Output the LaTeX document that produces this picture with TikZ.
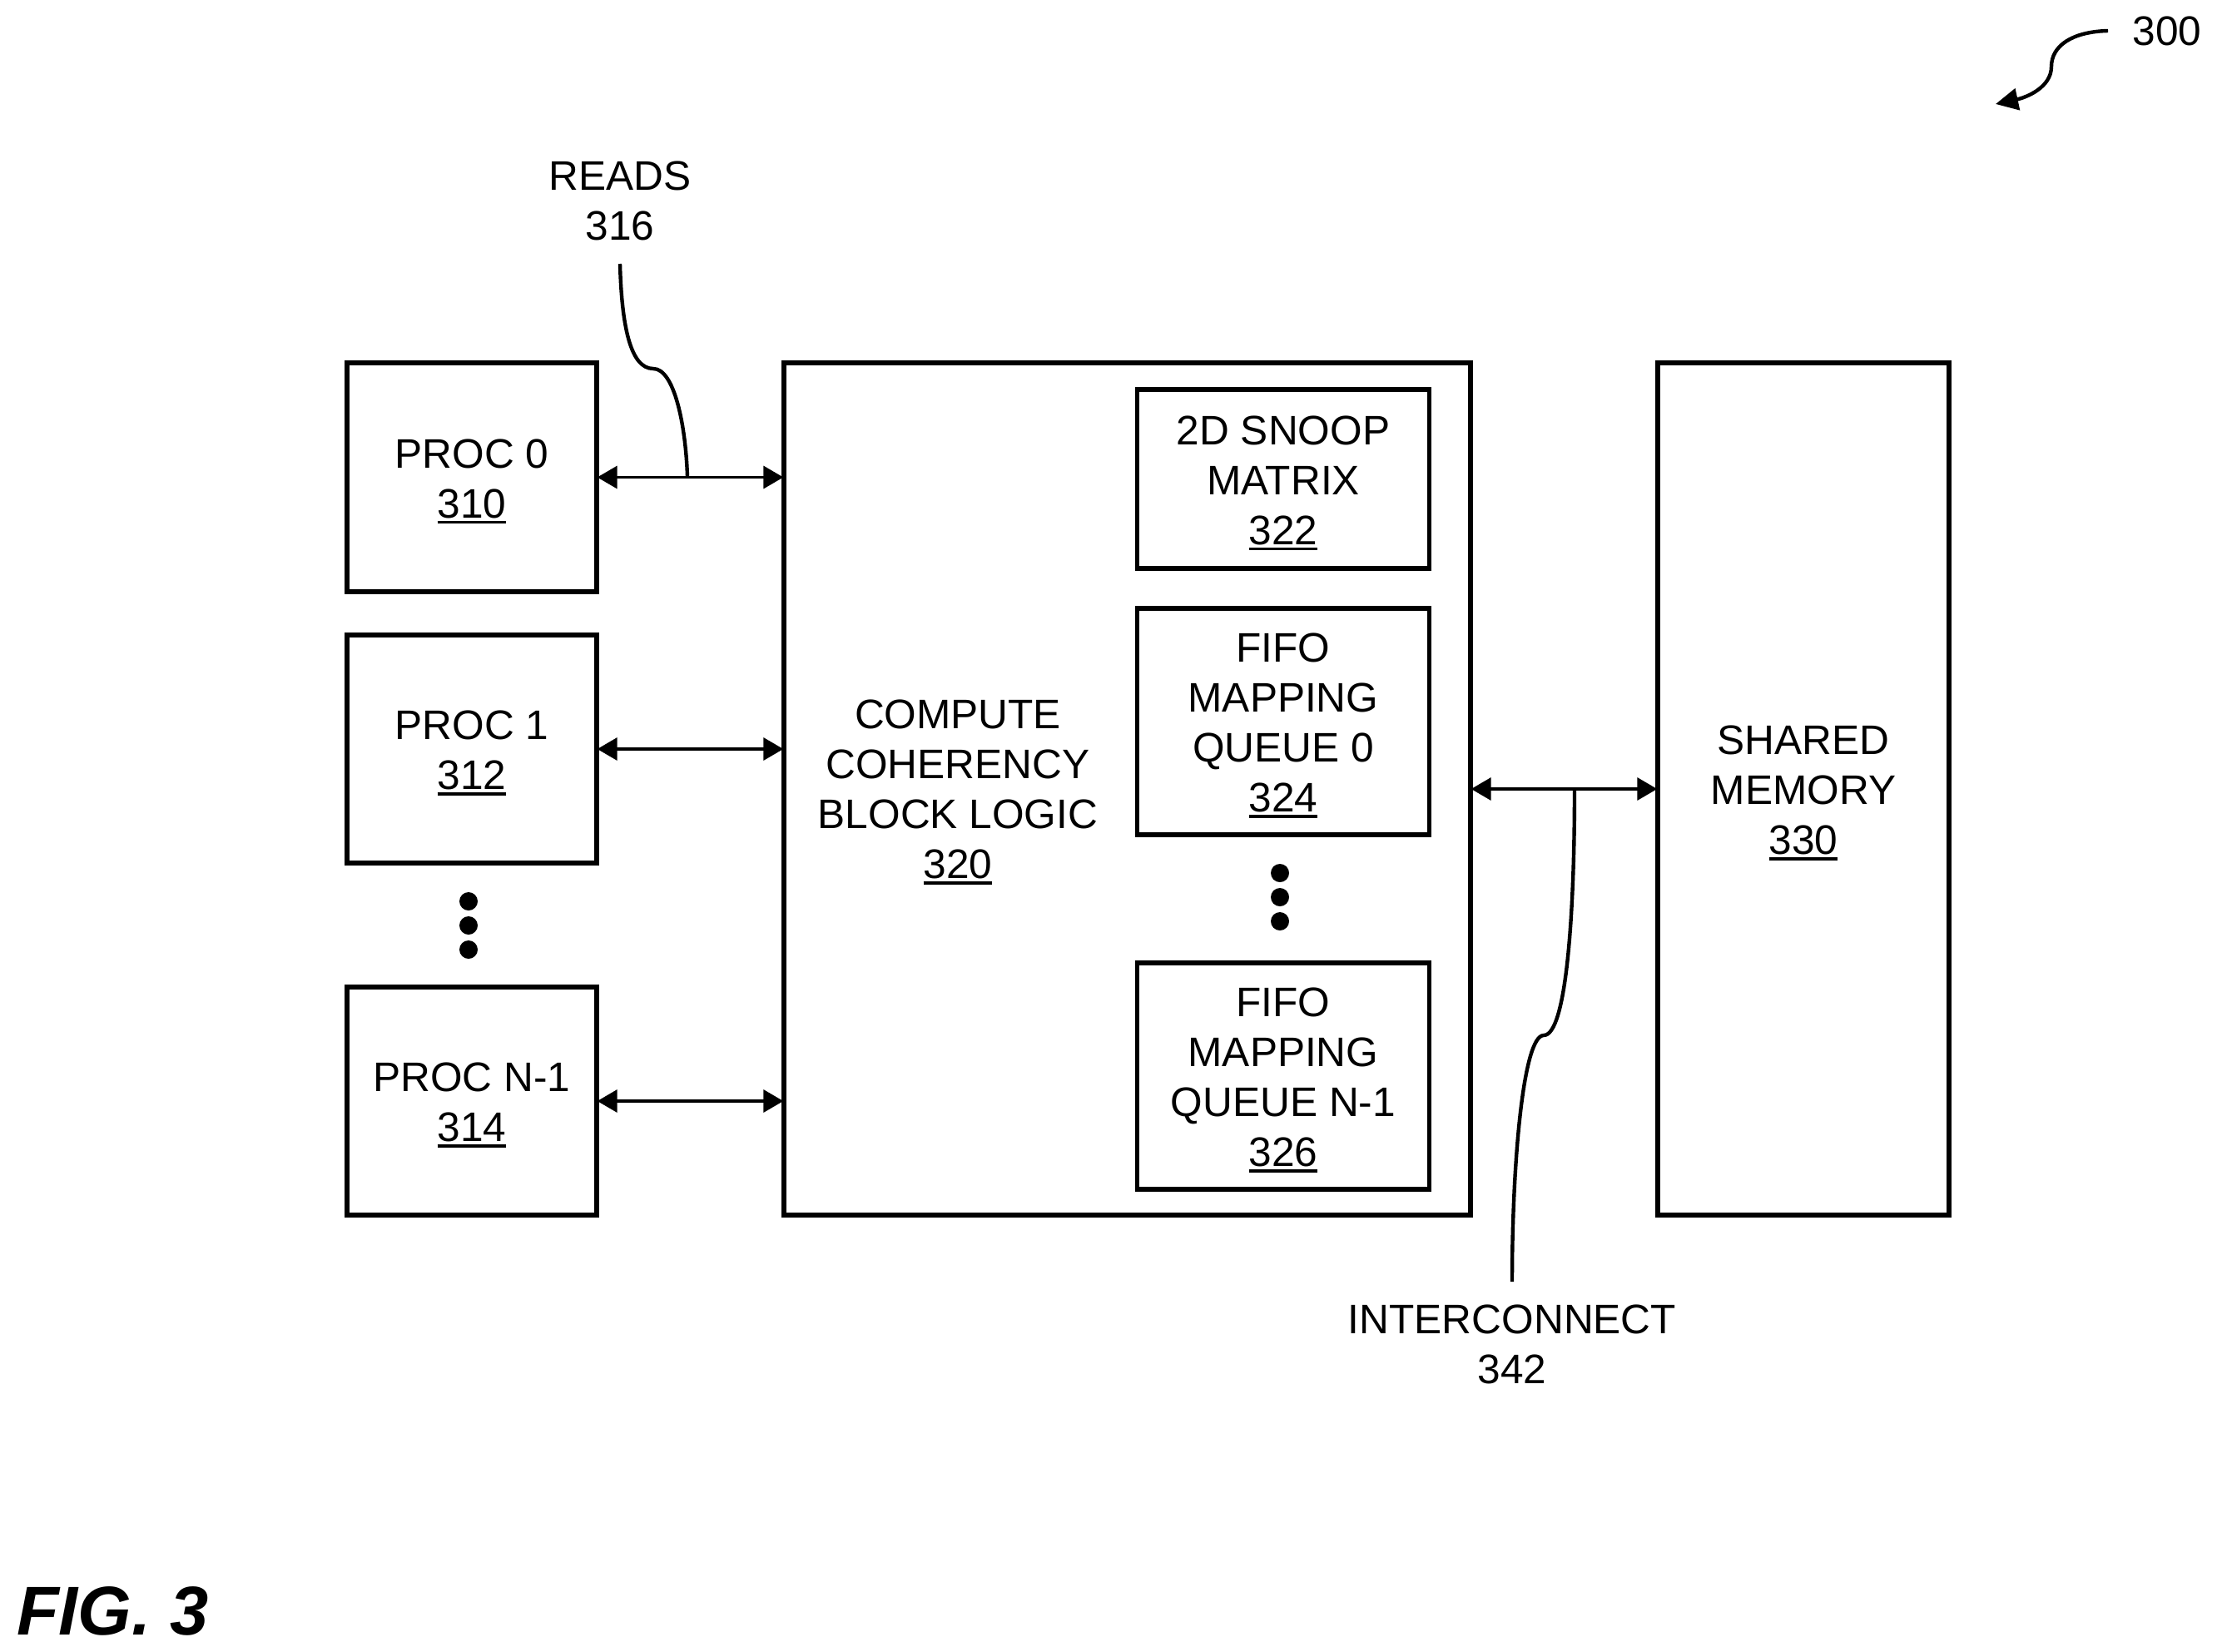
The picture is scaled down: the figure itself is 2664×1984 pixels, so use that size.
\documentclass[tikz,border=0pt]{standalone}
\usepackage{fontspec}
\setmainfont{Liberation Sans}
\usetikzlibrary{arrows.meta}
\newcommand\ulnum[1]{\setbox0\hbox{#1}\rlap{\smash{\rule[-7pt]{\wd0}{3.4pt}}}\box0}
\newcommand\toplift{\rule{0pt}{38pt}}
\tikzset{
  blockbox/.style={draw=black,line width=5.4pt,minimum width=#1,align=center,inner sep=0pt,
    font=\fontsize{49.6}{60}\selectfont},
  label/.style={align=center,inner sep=0pt,font=\fontsize{49.6}{60}\selectfont},
  biarrow/.style={line width=3.6pt,shorten <=-2pt,shorten >=-2pt,{Triangle[length=24pt,width=27pt]}-{Triangle[length=24pt,width=27pt]}},
  leader/.style={line width=4.4pt},
  dotmark/.style={circle,fill=black,inner sep=0pt,minimum size=22pt}
}
\begin{document}
\begin{tikzpicture}[x=1pt,y=-1pt]
\useasboundingbox (0,0) rectangle (2664,1984);
% processors
\node[blockbox=300pt,minimum height=275pt] (p0) at (567,573.5) {\toplift PROC 0\\\ulnum{310}};
\node[blockbox=300pt,minimum height=274pt] (p1) at (567,900) {\toplift PROC 1\\\ulnum{312}};
\node[blockbox=300pt,minimum height=274pt] (pn) at (567,1323) {\toplift PROC N-1\\\ulnum{314}};
% compute block
\node[blockbox=825pt,minimum height=1024pt] (cc) at (1354.5,948) {};
\node[label] (cctext) at (1151,948.5) {COMPUTE\\COHERENCY\\BLOCK LOGIC\\\ulnum{320}};
\node[blockbox=351pt,minimum height=215pt] (snoop) at (1542,575.5) {\toplift 2D SNOOP\\MATRIX\\\ulnum{322}};
\node[blockbox=351pt,minimum height=272pt] (f0) at (1542,867) {\toplift FIFO\\MAPPING\\QUEUE 0\\\ulnum{324}};
\node[blockbox=351pt,minimum height=272pt] (fn) at (1542,1293) {\toplift FIFO\\MAPPING\\QUEUE N-1\\\ulnum{326}};
% memory
\node[blockbox=350pt,minimum height=1024pt] (mem) at (2167,948) {\toplift SHARED\\MEMORY\\\ulnum{330}};
% dots
\node[dotmark] (d1) at (563,1083) {};
\node[dotmark] (d2) at (563,1112) {};
\node[dotmark] (d3) at (563,1141) {};
\node[dotmark] (d4) at (1538,1049) {};
\node[dotmark] (d5) at (1538,1078) {};
\node[dotmark] (d6) at (1538,1107) {};
% arrows
\draw[biarrow] (p0.east) -- (p0.east -| cc.west);
\draw[biarrow] (p1.east) -- (p1.east -| cc.west);
\draw[biarrow] (pn.east) -- (pn.east -| cc.west);
\draw[biarrow] (cc.east) -- (mem.west);
% labels
\node[label] (reads) at (745,241.5) {READS\\316};
\node[label] (inter) at (1817,1615.5) {INTERCONNECT\\342};
\node[label] (ref) at (2604,37) {300};
\node[inner sep=0pt,anchor=base west,font=\fontsize{83}{90}\selectfont\bfseries\itshape] (fig) at (20,1964) {FIG. 3};
% leaders
\coordinate (rtop) at (745,317);
\coordinate (rknot) at (785,443);
\coordinate (rbot) at (826,573);
\draw[leader] (rtop) .. controls (747,390) and (757,443) .. (rknot)
  .. controls (810,443) and (824,510) .. (rbot);
\coordinate (itop) at (1892,948);
\coordinate (iknot) at (1855,1244);
\coordinate (ibot) at (1817,1540);
\draw[leader] (itop) .. controls (1892,1100) and (1882,1244) .. (iknot)
  .. controls (1830,1244) and (1817,1400) .. (ibot);
\coordinate (astart) at (2533,37);
\coordinate (aknot) at (2465,80);
\coordinate (atip) at (2398,125);
\draw[leader,-{Triangle[length=27pt,width=26pt]}] (astart) .. controls (2490,38) and (2465,55) .. (aknot)
  .. controls (2465,105) and (2435,117) .. (atip);
\end{tikzpicture}
\end{document}
